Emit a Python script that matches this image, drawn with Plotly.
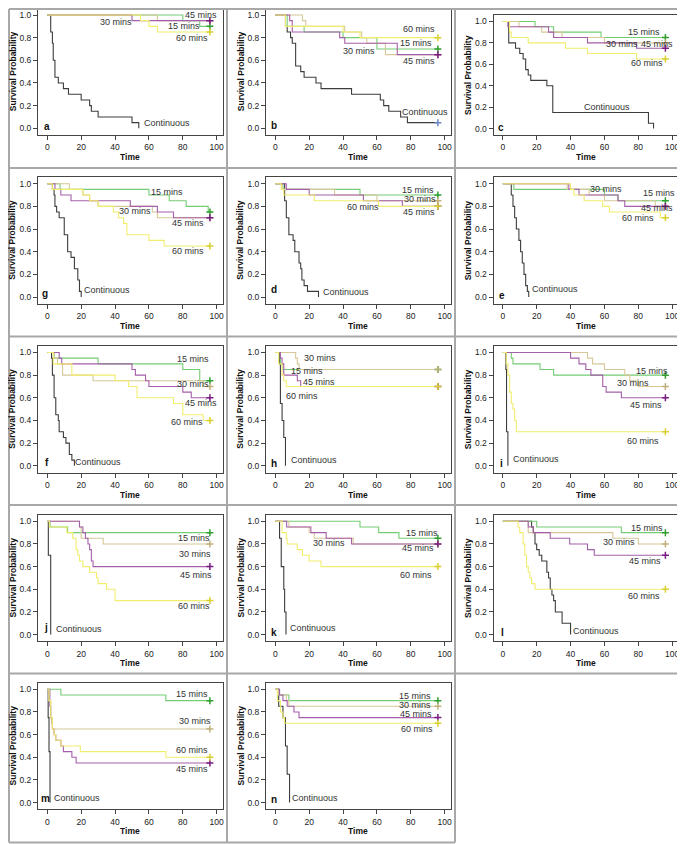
import plotly.graph_objects as go

# ---------------- data: Kaplan-Meier step points (time, survival) ----------------
A_CONT = [(0,1),(2,0.85),(3,0.75),(3.5,0.6),(4.5,0.45),(6.5,0.4),(9.5,0.35),(12.5,0.3),(20,0.25),(25,0.2),(26,0.15),(30,0.1),(50,0.05),(54,0)]
A_15 = [(0,1),(80,0.95),(90,0.9),(96,0.9)]
A_30 = [(0,1),(65,0.95),(96,0.95)]
A_45 = [(0,1),(50,0.95),(96,0.95)]
A_60 = [(0,1),(55,0.95),(60,0.9),(65,0.85),(96,0.85)]

B_CONT = [(0,1),(6,0.9),(7,0.85),(9,0.8),(10,0.75),(12,0.55),(15,0.5),(17,0.45),(24,0.4),(27,0.35),(45,0.3),(62,0.25),(64,0.2),(67,0.15),(74,0.1),(78,0.05),(96,0.05)]
B_15 = [(0,1),(7,0.9),(17,0.85),(40,0.8),(60,0.7),(96,0.7)]
B_30 = [(0,1),(16,0.95),(18,0.9),(41,0.85),(51,0.8),(54,0.75),(65,0.65),(96,0.65)]
B_45 = [(0,1),(8.5,0.95),(10,0.85),(38,0.8),(41,0.75),(72,0.65),(96,0.65)]
B_60 = [(0,1),(6,0.9),(40,0.85),(50,0.8),(96,0.8)]

C_CONT = [(0,1),(3.5,0.8),(7.5,0.75),(10,0.7),(12,0.65),(13.5,0.55),(15,0.5),(16.5,0.45),(26,0.4),(29.5,0.15),(86,0.05),(89,0)]
C_15 = [(0,1),(19,0.95),(30,0.9),(58,0.85),(96,0.85)]
C_30 = [(0,1),(9.5,0.95),(23,0.9),(35,0.85),(60,0.8),(96,0.8)]
C_45 = [(0,1),(3,0.95),(27,0.9),(30,0.85),(50,0.8),(79,0.75),(96,0.75)]
C_60 = [(0,1),(4,0.9),(5,0.85),(15,0.8),(37,0.75),(50,0.7),(79,0.65),(96,0.65)]

G_CONT = [(0,1),(3,0.95),(4,0.9),(4.5,0.8),(5.5,0.75),(7,0.7),(10,0.55),(12,0.4),(14,0.35),(16,0.25),(18,0.15),(19,0.05),(20,0)]
G_15 = [(0,1),(7.5,0.95),(60,0.9),(72,0.85),(82,0.8),(95,0.75),(96,0.75)]
G_30 = [(0,1),(13,0.95),(21,0.9),(25,0.85),(30,0.8),(62,0.75),(65,0.7),(96,0.7)]
G_45 = [(0,1),(4.5,0.95),(8,0.9),(14,0.85),(49,0.8),(65,0.75),(74.5,0.7),(96,0.7)]
G_60 = [(0,1),(3,0.95),(21,0.9),(25,0.85),(30,0.8),(39,0.75),(42,0.7),(45,0.65),(47,0.55),(60,0.5),(69,0.45),(96,0.45)]

D_CONT = [(0,1),(5.5,0.85),(6.5,0.7),(8,0.55),(10.5,0.5),(11.5,0.4),(14,0.3),(15,0.25),(15.7,0.15),(17,0.1),(19,0.05),(25.5,0)]
D_15 = [(0,1),(4.5,0.95),(50,0.9),(96,0.9)]
D_30 = [(0,1),(4,0.95),(35,0.9),(60,0.85),(96,0.85)]
D_45 = [(0,1),(6.5,0.95),(20,0.9),(52,0.85),(75,0.8),(96,0.8)]
D_60 = [(0,1),(3.5,0.95),(5,0.9),(23,0.85),(61,0.8),(96,0.8)]

E_CONT = [(0,1),(5,0.9),(6,0.8),(7,0.7),(8,0.6),(9.5,0.5),(10.5,0.4),(11.5,0.3),(12.5,0.2),(13.5,0.1),(14.5,0.05),(15.3,0)]
E_15 = [(0,1),(6.5,0.95),(60,0.9),(68,0.85),(96,0.85)]
E_30 = [(0,1),(38,0.95),(51,0.9),(60,0.85),(90,0.8),(96,0.8)]
E_45 = [(0,1),(39,0.95),(45,0.9),(68,0.85),(72,0.8),(96,0.8)]
E_60 = [(0,1),(40,0.95),(42,0.9),(48,0.85),(59,0.8),(63,0.75),(93,0.7),(96,0.7)]

F_CONT = [(0,1),(2.5,0.95),(3,0.8),(4,0.6),(5,0.45),(6.5,0.4),(7,0.3),(9.5,0.25),(11,0.2),(13,0.1),(14.5,0.05),(16,0)]
F_15 = [(0,1),(4,0.95),(30,0.9),(80,0.85),(90,0.75),(96,0.75)]
F_30 = [(0,1),(4,0.95),(6,0.9),(9,0.8),(27,0.75),(92,0.7),(96,0.7)]
F_45 = [(0,1),(7,0.95),(8.5,0.9),(50,0.85),(52,0.8),(58,0.75),(60,0.7),(80,0.65),(85,0.6),(96,0.6)]
F_60 = [(0,1),(3.5,0.9),(14.5,0.8),(40,0.75),(48,0.7),(53,0.6),(74.5,0.55),(80,0.45),(92,0.4),(96,0.4)]

H_CONT = [(0,1),(2.5,0.9),(3,0.55),(4,0.4),(5,0.25),(6,0)]
H_15 = [(0,1),(3,0.9),(4.5,0.85),(96,0.85)]
H_30 = [(0,1),(12,0.95),(13,0.9),(14,0.85),(96,0.85)]
H_45 = [(0,1),(3,0.95),(4,0.9),(5,0.8),(13,0.75),(15,0.7),(96,0.7)]
H_60 = [(0,1),(2,0.9),(4,0.8),(5,0.75),(6.5,0.7),(96,0.7)]

I_CONT = [(0,1),(1.8,0.85),(2.2,0.3),(3,0)]
I_15 = [(0,1),(5,0.95),(6,0.9),(22,0.85),(30,0.8),(96,0.8)]
I_30 = [(0,1),(50,0.95),(53,0.9),(60,0.85),(72,0.8),(75,0.75),(80,0.7),(96,0.7)]
I_45 = [(0,1),(40,0.95),(45,0.9),(49,0.85),(52,0.8),(59,0.7),(61,0.65),(70,0.6),(96,0.6)]
I_60 = [(0,1),(2,0.9),(3,0.8),(4,0.65),(5,0.55),(6,0.5),(7,0.4),(8,0.3),(96,0.3)]

J_CONT = [(0,1),(0.6,0.7),(2,0)]
J_15 = [(0,1),(1.6,0.95),(12,0.9),(96,0.9)]
J_30 = [(0,1),(19,0.95),(20,0.85),(33,0.8),(96,0.8)]
J_45 = [(0,1),(19,0.95),(21,0.9),(22.5,0.85),(24,0.8),(25,0.75),(26,0.65),(27,0.6),(96,0.6)]
J_60 = [(0,1),(1.2,0.95),(11.5,0.9),(15,0.85),(17,0.75),(18,0.7),(19,0.65),(21,0.6),(25,0.55),(29,0.5),(30,0.45),(35,0.4),(40,0.3),(96,0.3)]

K_CONT = [(0,1),(2.5,0.85),(3.5,0.6),(5,0.4),(5.5,0.2),(6.3,0)]
K_15 = [(0,1),(50,0.95),(61,0.9),(73,0.85),(96,0.85)]
K_30 = [(0,1),(8,0.95),(20,0.9),(23,0.85),(46,0.8),(96,0.8)]
K_45 = [(0,1),(6.7,0.95),(21,0.9),(30,0.85),(45,0.8),(96,0.8)]
K_60 = [(0,1),(4,0.9),(6.5,0.85),(7,0.8),(13,0.75),(16,0.7),(20,0.65),(27,0.6),(96,0.6)]

L_CONT = [(0,1),(17,0.95),(18,0.9),(19,0.8),(20,0.75),(21.5,0.7),(23,0.65),(26,0.55),(27,0.5),(28,0.4),(29,0.35),(30,0.3),(31,0.2),(35,0.1),(40,0)]
L_15 = [(0,1),(20,0.95),(70,0.9),(96,0.9)]
L_30 = [(0,1),(15,0.9),(65,0.85),(80,0.8),(96,0.8)]
L_45 = [(0,1),(15,0.95),(18,0.9),(28,0.85),(39.5,0.8),(50,0.75),(54,0.7),(96,0.7)]
L_60 = [(0,1),(9,0.95),(10,0.9),(12,0.8),(13,0.7),(14,0.6),(15,0.55),(16,0.5),(17,0.45),(19,0.4),(96,0.4)]

M_CONT = [(0,1),(0.5,0.75),(1,0.45),(1.6,0)]
M_15 = [(0,1),(8,0.95),(70,0.9),(96,0.9)]
M_30 = [(0,1),(1,0.9),(2,0.75),(2.5,0.7),(3,0.65),(96,0.65)]
M_45 = [(0,1),(1.5,0.85),(2,0.75),(3,0.65),(4,0.6),(5,0.55),(8,0.5),(9.5,0.45),(14.5,0.4),(17,0.35),(96,0.35)]
M_60 = [(0,1),(1,0.9),(2,0.75),(3,0.65),(4,0.6),(5,0.55),(8,0.5),(19.5,0.45),(70,0.4),(96,0.4)]

N_CONT = [(0,1),(2,0.85),(4.5,0.75),(6,0.5),(7,0.25),(8.4,0)]
N_15 = [(0,1),(2,0.95),(8,0.9),(96,0.9)]
N_30 = [(0,1),(2,0.95),(6.5,0.9),(8,0.85),(96,0.85)]
N_45 = [(0,1),(2.5,0.95),(4.5,0.9),(7,0.85),(11,0.8),(14,0.75),(96,0.75)]
N_60 = [(0,1),(1.2,0.9),(3,0.8),(4.5,0.75),(5.5,0.7),(96,0.7)]

GROUP_NAMES = ["Continuous", "15 mins", "30 mins", "45 mins", "60 mins"]
X_TICKS = [0, 20, 40, 60, 80, 100]
Y_TICKS = [0.0, 0.2, 0.4, 0.6, 0.8, 1.0]

PANELS = {
    "a": [A_CONT, A_15, A_30, A_45, A_60],
    "b": [B_CONT, B_15, B_30, B_45, B_60],
    "c": [C_CONT, C_15, C_30, C_45, C_60],
    "g": [G_CONT, G_15, G_30, G_45, G_60],
    "d": [D_CONT, D_15, D_30, D_45, D_60],
    "e": [E_CONT, E_15, E_30, E_45, E_60],
    "f": [F_CONT, F_15, F_30, F_45, F_60],
    "h": [H_CONT, H_15, H_30, H_45, H_60],
    "i": [I_CONT, I_15, I_30, I_45, I_60],
    "j": [J_CONT, J_15, J_30, J_45, J_60],
    "k": [K_CONT, K_15, K_30, K_45, K_60],
    "l": [L_CONT, L_15, L_30, L_45, L_60],
    "m": [M_CONT, M_15, M_30, M_45, M_60],
    "n": [N_CONT, N_15, N_30, N_45, N_60],
}

# ---------------- layout / style ----------------
# the page body has an 8px default margin, so the figure is drawn 8px smaller
# and all page-pixel positions are shifted by OFF
OFF = 8
W, H = 685 - OFF, 844 - OFF
GRID = [("a", 0, 0), ("b", 0, 1), ("c", 0, 2),
        ("g", 1, 0), ("d", 1, 1), ("e", 1, 2),
        ("f", 2, 0), ("h", 2, 1), ("i", 2, 2),
        ("j", 3, 0), ("k", 3, 1), ("l", 3, 2),
        ("m", 4, 0), ("n", 4, 1)]
COL_L = [38, 266, 493.5]
ROW_T = [8.2, 176.9, 345.7, 514.5, 682.5]
FRAME_W, FRAME_H = 184.6, 126.9
SPECIAL_FRAME = {"c": (15.0, 120.0)}

LINE_COL = ["#3c3c3c", "#74cc74", "#d6c898", "#a55ea9", "#f1ed6e"]
MARK_COL = ["#6b86c8", "#2e9e2e", "#c2b07a", "#7a1c84", "#d9d030"]
FONT = "Liberation Sans, Arial, sans-serif"

# label anchor positions (data coords) per panel, order: Continuous, 15, 30, 45, 60
LABEL_POS = {
    "a": [(70.5, 0.045), (80.9, 0.9), (40.6, 0.94), (90.6, 1.0), (85.2, 0.80)],
    "b": [(88.6, 0.147), (83, 0.75), (49.7, 0.68), (85, 0.59), (84.8, 0.874)],
    "c": [(61.6, 0.2), (83.3, 0.9), (70.5, 0.79), (91, 0.79), (85.2, 0.61)],
    "g": [(35.4, 0.06), (70.5, 0.93), (52, 0.76), (83, 0.65), (83, 0.41)],
    "d": [(41.8, 0.04), (84.2, 0.942), (85.2, 0.862), (84.8, 0.75), (52, 0.795)],
    "e": [(30.7, 0.068), (92, 0.92), (61, 0.956), (91, 0.786), (80, 0.70)],
    "f": [(30, 0.035), (86.2, 0.94), (86.2, 0.72), (91, 0.55), (82.3, 0.39)],
    "h": [(22.7, 0.047), (18.7, 0.84), (26.6, 0.95), (25.6, 0.74), (15.6, 0.62)],
    "i": [(19.3, 0.06), (88.2, 0.84), (77, 0.73), (84.3, 0.54), (82.7, 0.215)],
    "j": [(18.7, 0.053), (86.6, 0.85), (87.2, 0.71), (87.8, 0.53), (86.6, 0.25)],
    "k": [(22.5, 0.06), (86.8, 0.9), (31.6, 0.805), (84.2, 0.76), (82.8, 0.527)],
    "l": [(55, 0.035), (85.4, 0.94), (68.8, 0.82), (84, 0.65), (83.4, 0.34)],
    "m": [(17.7, 0.044), (85.2, 0.956), (87.2, 0.72), (85.2, 0.294), (85.2, 0.46)],
    "n": [(23.6, 0.044), (82.5, 0.94), (82.5, 0.86), (83, 0.78), (83.4, 0.65)],
}
LETTER_POS = {"a": (-0.4, 0.02), "b": (-0.6, 0.026), "c": (-1.2, 0.01), "g": (-1.4, 0.03),
              "d": (-0.6, 0.07), "e": (-0.6, 0.015), "f": (-0.4, 0.03), "h": (-1.0, 0.018),
              "i": (-0.6, 0.018), "j": (-1.0, 0.06), "k": (-0.6, 0.015), "l": (-0.4, 0.015),
              "m": (-1.0, 0.035), "n": (-0.8, 0.03)}

fig = go.Figure()
layout = dict(width=W, height=H, margin=dict(l=0, r=0, t=0, b=0),
              paper_bgcolor="white", plot_bgcolor="white", showlegend=False,
              font=dict(family=FONT, color="#222"))
annotations = []
shapes = []


def px(x):
    return (x - OFF) / W


def py(y):
    return 1 - (y - OFF) / H


for idx, (letter, r, c) in enumerate(GRID):
    n = idx + 1
    xs = "" if n == 1 else str(n)
    left = COL_L[c]
    top, fh = SPECIAL_FRAME.get(letter, (ROW_T[r], FRAME_H))
    bottom = top + fh
    layout["xaxis" + xs] = dict(
        domain=[px(left), px(left + FRAME_W)], range=[-5.5, 103.5], anchor="y" + xs,
        tickvals=X_TICKS, ticks="outside", ticklen=4, tickcolor="#444",
        showline=True, mirror=True, linecolor="#444", linewidth=1,
        showgrid=False, zeroline=False, tickfont=dict(size=8.5, color="#222", family=FONT))
    layout["yaxis" + xs] = dict(
        domain=[py(bottom), py(top)], range=[-0.06, 1.06], anchor="x" + xs,
        tickvals=Y_TICKS, tickformat=".1f", ticks="outside", ticklen=4, tickcolor="#444",
        showline=True, mirror=True, linecolor="#444", linewidth=1,
        showgrid=False, zeroline=False, tickfont=dict(size=8.5, color="#222", family=FONT))

    series = PANELS[letter]
    for g in range(5):
        pts = series[g]
        fig.add_trace(go.Scatter(
            x=[p[0] for p in pts], y=[p[1] for p in pts], mode="lines",
            line=dict(color=LINE_COL[g], width=1.1, shape="hv"),
            xaxis="x" + xs, yaxis="y" + xs, hoverinfo="skip"))
        last = pts[-1]
        if last[1] > 0:
            fig.add_trace(go.Scatter(
                x=[last[0]], y=[last[1]], mode="markers",
                marker=dict(symbol="cross-thin", size=5, line=dict(color=MARK_COL[g], width=1.5)),
                xaxis="x" + xs, yaxis="y" + xs, hoverinfo="skip"))
    for g in range(5):
        lx, ly = LABEL_POS[letter][g]
        annotations.append(dict(x=lx, y=ly, xref="x" + xs, yref="y" + xs, text=GROUP_NAMES[g],
                                showarrow=False, xanchor="center", yanchor="middle",
                                font=dict(size=9, color="#333", family=FONT)))
    lx, ly = LETTER_POS[letter]
    annotations.append(dict(x=lx, y=ly, xref="x" + xs, yref="y" + xs, text="<b>" + letter + "</b>",
                            showarrow=False, xanchor="center", yanchor="middle",
                            font=dict(size=10, color="#111", family=FONT)))
    # axis titles
    annotations.append(dict(x=px(left + FRAME_W / 2), y=py(ROW_T[r] + FRAME_H + 22),
                            xref="paper", yref="paper", text="<b>Time</b>", showarrow=False,
                            xanchor="center", yanchor="middle",
                            font=dict(size=8.5, color="#111", family=FONT)))
    annotations.append(dict(x=px(left - 25.5), y=py((top + bottom) / 2),
                            xref="paper", yref="paper", text="<b>Survival Probability</b>",
                            showarrow=False, textangle=-90, xanchor="center", yanchor="middle",
                            font=dict(size=8.5, color="#111", family=FONT)))

# cell borders (page-pixel positions)
BORDER = dict(color="#a8a8a8", width=2)
VX = [9, 227, 455, 683]
HY = [9, 168, 336.5, 505, 673.5, 842.5]
for i, x in enumerate(VX):
    y1 = HY[-1] if i < 3 else HY[4]
    shapes.append(dict(type="line", xref="paper", yref="paper", x0=px(x), x1=px(x),
                       y0=py(HY[0]), y1=py(y1), line=BORDER))
for j, y in enumerate(HY):
    x1 = VX[3] if j < 5 else VX[2]
    shapes.append(dict(type="line", xref="paper", yref="paper", x0=px(VX[0]), x1=px(x1),
                       y0=py(y), y1=py(y), line=BORDER))

layout["annotations"] = annotations
layout["shapes"] = shapes
fig.update_layout(**layout)
fig.write_html("out.html")
